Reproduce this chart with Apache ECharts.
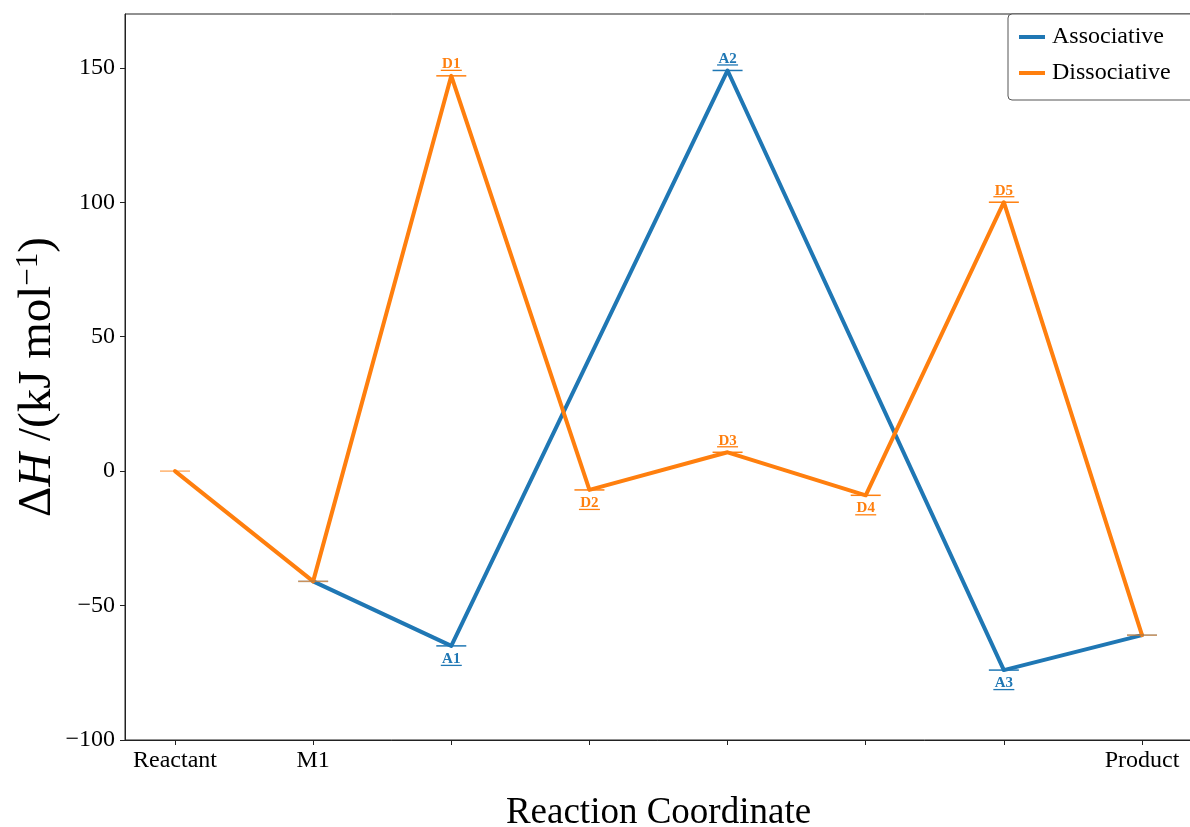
<!DOCTYPE html>
<html><head><meta charset="utf-8">
<script src="https://cdn.jsdelivr.net/npm/echarts@6.0.0/dist/echarts.min.js"></script>
<style>html,body{margin:0;padding:0;background:#fff;overflow:hidden}#c{width:1190px;height:827px}</style>
</head><body><div id="c"></div>
<script>
// ---- data ----
const categories = ['Reactant', 'M1', '', '', '', '', '', 'Product'];
const xTickPositions = [0, 1, 2, 3, 4, 5, 6, 7];
const xLabelPositions = [0, 1, 7];
const yTicks = [-100, -50, 0, 50, 100, 150];

const assocName = 'Associative';
const assocX = [1, 2, 4, 6, 7];
const assocY = [-41, -65, 149, -74, -61];
const assocLabels = ['', 'A1', 'A2', 'A3', ''];
const assocSides = ['', 'below', 'above', 'below', ''];

const dissocName = 'Dissociative';
const dissocX = [0, 1, 2, 3, 4, 5, 6, 7];
const dissocY = [0, -41, 147, -7, 7, -9, 100, -61];
const dissocLabels = ['', '', 'D1', 'D2', 'D3', 'D4', 'D5', ''];
const dissocSides = ['', '', 'above', 'below', 'above', 'below', 'above', ''];

// ---- styling ----
const BLUE = '#1f77b4', ORANGE = '#ff7f0e';
const SERIF = '"Liberation Serif", "DejaVu Serif", serif';

function lineSeries(name, xs, ys, color, z) {
  return {
    type: 'line', name, z, silent: true, animation: false,
    showSymbol: false, symbol: 'none',
    data: xs.map((x, i) => [x, ys[i]]),
    lineStyle: { color, width: 4, cap: 'round', join: 'round' },
    itemStyle: { color }
  };
}

function levelSeries(name, xs, ys, labels, sides, color, z) {
  return {
    type: 'custom', name: name + ' levels', z, silent: true, animation: false,
    data: xs.map((x, i) => [x, ys[i], i]),
    renderItem(params, api) {
      const i = api.value(2);
      const p = api.coord([api.value(0), api.value(1)]);
      const lab = labels[i];
      const children = [{
        type: 'line',
        shape: { x1: p[0] - 15, y1: p[1], x2: p[0] + 15, y2: p[1] },
        style: { stroke: color, lineWidth: 1.5, opacity: lab ? 1 : 0.6 }
      }];
      if (lab) {
        const above = sides[i] === 'above';
        const cy = above ? p[1] - 11.5 : p[1] + 13;
        const uy = above ? p[1] - 5.5 : p[1] + 19.5;
        children.push({
          type: 'text',
          style: { text: lab, x: p[0], y: cy, align: 'center', verticalAlign: 'middle',
                   fill: color, font: 'bold 15px ' + SERIF }
        });
        children.push({
          type: 'line',
          shape: { x1: p[0] - 10.5, y1: uy, x2: p[0] + 10.5, y2: uy },
          style: { stroke: color, lineWidth: 1.3 }
        });
      }
      return { type: 'group', children };
    }
  };
}

const chart = echarts.init(document.getElementById('c'), null, { renderer: 'canvas' });
chart.setOption({
  animation: false,
  backgroundColor: '#fff',
  grid: { left: 125, top: 14, right: -2, bottom: 87, show: true, borderColor: '#222', borderWidth: 1,
          containLabel: false, outerBoundsMode: 'none' },
  legend: {
    data: [assocName, dissocName],
    left: 1008, top: 14, orient: 'vertical',
    icon: 'rect', itemWidth: 26, itemHeight: 4, itemGap: 12,
    padding: [11, 30, 15, 11],
    backgroundColor: '#fff', borderColor: '#555', borderWidth: 1, borderRadius: 4,
    textStyle: { fontFamily: SERIF, fontSize: 24, color: '#000', padding: [0, 0, 0, 2] },
    selectedMode: false
  },
  xAxis: {
    type: 'value', min: -0.362, max: 7.362,
    name: 'Reaction Coordinate', nameLocation: 'middle', nameGap: 55,
    nameTextStyle: { fontFamily: SERIF, fontSize: 37, color: '#000' },
    axisLine: { show: true, onZero: false, lineStyle: { color: '#222', width: 1 } },
    axisTick: { show: true, customValues: xTickPositions, length: 5, lineStyle: { color: '#222' } },
    axisLabel: { customValues: xLabelPositions, formatter: v => categories[Math.round(v)],
                 fontFamily: SERIF, fontSize: 24, color: '#000', margin: 9 },
    splitLine: { show: false }
  },
  yAxis: {
    type: 'value', min: -100, max: 170,
    name: '{t|\u0394}{i|H}{t| /(kJ mol}{s|\u22121}{t|)}', nameLocation: 'middle', nameGap: 63, nameRotate: 90,
    nameMoveOverlap: false,
    nameTextStyle: {
      rich: {
        t: { fontFamily: SERIF, fontSize: 47, color: '#000' },
        i: { fontFamily: SERIF, fontSize: 47, fontStyle: 'italic', color: '#000' },
        s: { fontFamily: SERIF, fontSize: 31, color: '#000', verticalAlign: 'top', padding: [0, 0, 18, 0] }
      }
    },
    axisLine: { show: true, onZero: false, lineStyle: { color: '#222', width: 1 } },
    axisTick: { show: true, customValues: yTicks, length: 5, lineStyle: { color: '#222' } },
    axisLabel: { customValues: yTicks, formatter: v => String(v).replace('-', '\u2212'),
                 fontFamily: SERIF, fontSize: 24, color: '#000', margin: 10 },
    splitLine: { show: false }
  },
  series: [
    lineSeries(assocName, assocX, assocY, BLUE, 2),
    lineSeries(dissocName, dissocX, dissocY, ORANGE, 3),
    levelSeries(assocName, assocX, assocY, assocLabels, assocSides, BLUE, 4),
    levelSeries(dissocName, dissocX, dissocY, dissocLabels, dissocSides, ORANGE, 5)
  ]
});
</script></body></html>
